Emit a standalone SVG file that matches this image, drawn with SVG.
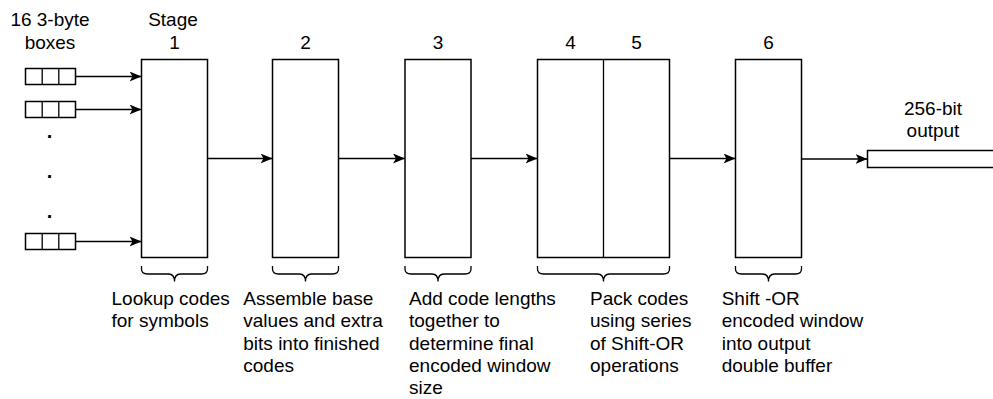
<svg xmlns="http://www.w3.org/2000/svg" width="993" height="399" viewBox="0 0 993 399">
<style>
.b{fill:#fff;stroke:#000;stroke-width:1.5}
.t{font-family:"Liberation Sans",Arial,Helvetica,sans-serif;font-size:19px;fill:#000}
.c{text-anchor:middle}
.d{font-weight:bold;font-size:20px}
.e{fill:none;stroke:#000;stroke-width:1.3}
.br{fill:none;stroke:#000;stroke-width:1.3}
</style>
<defs>
<marker id="ah" viewBox="0 0 12 10" refX="12" refY="5" markerWidth="12" markerHeight="10" markerUnits="userSpaceOnUse" orient="auto">
<path d="M0,0 L12,5 L0,10 L3,5 Z" fill="#000"/>
</marker>
</defs>
<g id="inputs-label"><text class="t c" x="50" y="26">16 3-byte</text><text class="t c" x="50" y="49">boxes</text></g>
<g id="input1"><rect class="b" x="25.5" y="68.5" width="50" height="16"/><path class="e" d="M42.2,68.5V84.5M58.8,68.5V84.5"/></g>
<g id="input2"><rect class="b" x="25.5" y="101.5" width="50" height="16"/><path class="e" d="M42.2,101.5V117.5M58.8,101.5V117.5"/></g>
<g id="dots"><text class="t c d" x="49.5" y="138">.</text><text class="t c d" x="49.5" y="178">.</text><text class="t c d" x="49.5" y="218">.</text></g>
<g id="input16"><rect class="b" x="25.5" y="233.5" width="50" height="16"/><path class="e" d="M42.2,233.5V249.5M58.8,233.5V249.5"/></g>
<g id="stage1"><text class="t c" x="173" y="26">Stage</text><text class="t c" x="174.5" y="49">1</text><rect class="b" x="141.5" y="59.5" width="66" height="198"/></g>
<g id="stage2"><text class="t c" x="305.5" y="49">2</text><rect class="b" x="272.5" y="59.5" width="66" height="198"/></g>
<g id="stage3"><text class="t c" x="438" y="49">3</text><rect class="b" x="405" y="59.5" width="66" height="198"/></g>
<g id="stage45"><text class="t c" x="570.5" y="49">4</text><text class="t c" x="636.5" y="49">5</text><rect class="b" x="537.5" y="59.5" width="132" height="198"/><path class="e" d="M603.5,59.5V257.5"/></g>
<g id="stage6"><text class="t c" x="768.5" y="49">6</text><rect class="b" x="735.5" y="59.5" width="66" height="198"/></g>
<g id="output"><text class="t c" x="933" y="114.5">256-bit</text><text class="t c" x="933" y="137">output</text><rect class="b" x="867.5" y="150.5" width="140" height="17"/></g>
<g id="connectors">
<path class="e" d="M75.5,76.5H141.5" marker-end="url(#ah)"/>
<path class="e" d="M75.5,109.5H141.5" marker-end="url(#ah)"/>
<path class="e" d="M75.5,241.5H141.5" marker-end="url(#ah)"/>
<path class="e" d="M207.5,158.5H272.5" marker-end="url(#ah)"/>
<path class="e" d="M338.5,158.5H405" marker-end="url(#ah)"/>
<path class="e" d="M471,158.5H537.5" marker-end="url(#ah)"/>
<path class="e" d="M669.5,158.5H735.5" marker-end="url(#ah)"/>
<path class="e" d="M801.5,159H867.5" marker-end="url(#ah)"/>
</g>
<g id="brace1"><path class="br" d="M141.5,266V269Q141.5,274 147.5,274H168.5Q174.5,274 174.5,281.5Q174.5,274 180.5,274H201.5Q207.5,274 207.5,269V266"/>
<text class="t" x="111.5" y="305">Lookup codes</text><text class="t" x="111.5" y="327.3">for symbols</text></g>
<g id="brace2"><path class="br" d="M272.5,266V269Q272.5,274 278.5,274H299.5Q305.5,274 305.5,281.5Q305.5,274 311.5,274H332.5Q338.5,274 338.5,269V266"/>
<text class="t" x="243.3" y="305">Assemble base</text><text class="t" x="243.3" y="327.3">values and extra</text><text class="t" x="243.3" y="349.6">bits into finished</text><text class="t" x="243.3" y="372">codes</text></g>
<g id="brace3"><path class="br" d="M405,266V269Q405,274 411,274H432Q438,274 438,281.5Q438,274 444,274H465Q471,274 471,269V266"/>
<text class="t" x="409" y="305">Add code lengths</text><text class="t" x="409" y="327.3">together to</text><text class="t" x="409" y="349.6">determine final</text><text class="t" x="409" y="372">encoded window</text><text class="t" x="409" y="394">size</text></g>
<g id="brace45"><path class="br" d="M537.5,266V269Q537.5,274 543.5,274H597.5Q603.5,274 603.5,281.5Q603.5,274 609.5,274H663.5Q669.5,274 669.5,269V266"/>
<text class="t" x="590" y="305">Pack codes</text><text class="t" x="590" y="327.3">using series</text><text class="t" x="590" y="349.6">of Shift-OR</text><text class="t" x="590" y="372">operations</text></g>
<g id="brace6"><path class="br" d="M735.5,266V269Q735.5,274 741.5,274H762.5Q768.5,274 768.5,281.5Q768.5,274 774.5,274H795.5Q801.5,274 801.5,269V266"/>
<text class="t" x="721.7" y="305">Shift -OR</text><text class="t" x="721.7" y="327.3">encoded window</text><text class="t" x="721.7" y="349.6">into output</text><text class="t" x="721.7" y="372">double buffer</text></g>
</svg>
